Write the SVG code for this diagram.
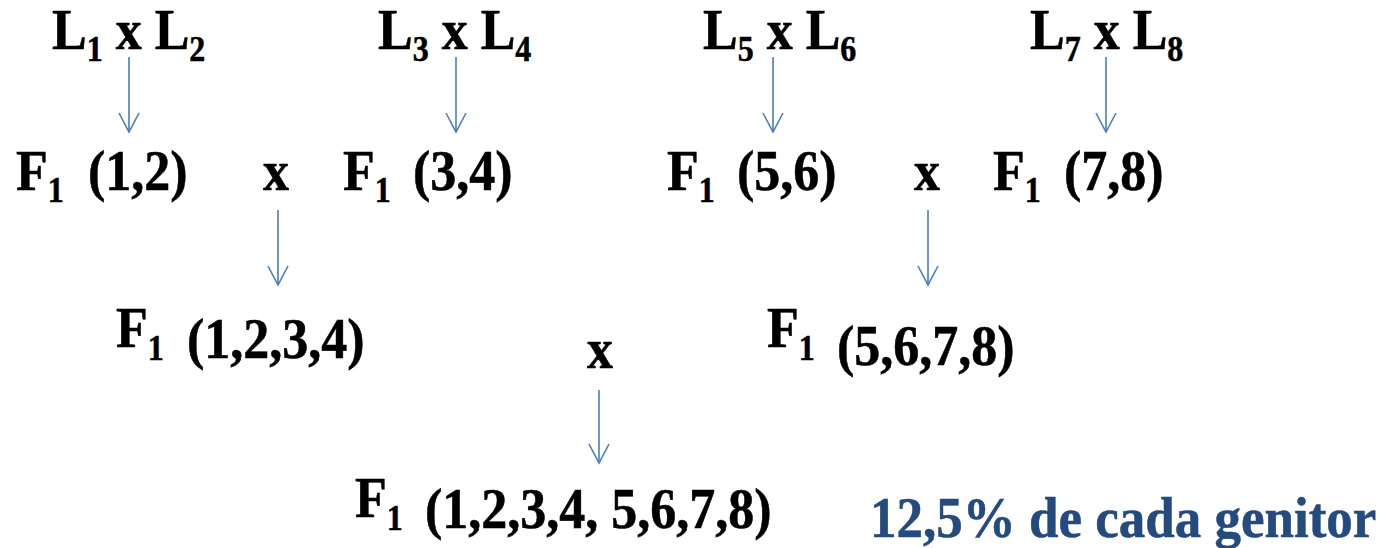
<svg xmlns="http://www.w3.org/2000/svg" width="1382" height="548" viewBox="0 0 1382 548">
<defs>
<style>
text{font-family:"Liberation Serif","Times New Roman",serif;font-weight:bold;font-size:52px;fill:#000;stroke:#000;stroke-width:0.5}
.sub{font-size:32px}
.blue{fill:#244a7e;stroke:#244a7e;font-size:53px}
.arr{stroke:#4a7ebb;stroke-width:1.6;fill:none}
</style>
<marker id="ah" viewBox="0 0 24 24" refX="21" refY="12" markerWidth="24" markerHeight="24" markerUnits="userSpaceOnUse" orient="auto">
<path d="M2 2 L21 12 L2 22" fill="none" stroke="#4a7ebb" stroke-width="1.6"/>
</marker>
</defs>
<rect width="1382" height="548" fill="#fff"/>
<g id="connectors">
<line class="arr" x1="129" y1="57" x2="129" y2="132" marker-end="url(#ah)"/>
<line class="arr" x1="456" y1="57" x2="456" y2="132" marker-end="url(#ah)"/>
<line class="arr" x1="773" y1="57" x2="773" y2="132" marker-end="url(#ah)"/>
<line class="arr" x1="1106" y1="57" x2="1106" y2="132" marker-end="url(#ah)"/>
<line class="arr" x1="278" y1="210" x2="278" y2="285" marker-end="url(#ah)"/>
<line class="arr" x1="928" y1="210" x2="928" y2="285" marker-end="url(#ah)"/>
<line class="arr" x1="599" y1="390" x2="599" y2="463" marker-end="url(#ah)"/>
</g>
<g id="cross-L1-L2"><text transform="translate(52,49) scale(1,1.09)">L<tspan class="sub" dy="11">1</tspan><tspan dy="-11"> x L</tspan><tspan class="sub" dy="11">2</tspan></text></g>
<g id="cross-L3-L4"><text transform="translate(378,49) scale(1,1.09)">L<tspan class="sub" dy="11">3</tspan><tspan dy="-11"> x L</tspan><tspan class="sub" dy="11">4</tspan></text></g>
<g id="cross-L5-L6"><text transform="translate(703,49) scale(1,1.09)">L<tspan class="sub" dy="11">5</tspan><tspan dy="-11"> x L</tspan><tspan class="sub" dy="11">6</tspan></text></g>
<g id="cross-L7-L8"><text transform="translate(1030,49) scale(1,1.09)">L<tspan class="sub" dy="11">7</tspan><tspan dy="-11"> x L</tspan><tspan class="sub" dy="11">8</tspan></text></g>
<g id="F1-12"><text transform="translate(16,190) scale(1,1.09)">F<tspan class="sub" dy="11">1</tspan></text><text transform="translate(88,190) scale(1,1.09)">(1,2)</text></g>
<g id="x-12-34"><text transform="translate(263,190) scale(1,1.09)">x</text></g>
<g id="F1-34"><text transform="translate(343,190) scale(1,1.09)">F<tspan class="sub" dy="11">1</tspan></text><text transform="translate(413,190) scale(1,1.09)">(3,4)</text></g>
<g id="F1-56"><text transform="translate(667,190) scale(1,1.09)">F<tspan class="sub" dy="11">1</tspan></text><text transform="translate(737,190) scale(1,1.09)">(5,6)</text></g>
<g id="x-56-78"><text transform="translate(914,190) scale(1,1.09)">x</text></g>
<g id="F1-78"><text transform="translate(993,190) scale(1,1.09)">F<tspan class="sub" dy="11">1</tspan></text><text transform="translate(1064,190) scale(1,1.09)">(7,8)</text></g>
<g id="F1-1234"><text transform="translate(116,347) scale(1,1.09)">F<tspan class="sub" dy="12">1</tspan></text><text transform="translate(187,358) scale(1,1.09)">(1,2,3,4)</text></g>
<g id="x-1234-5678"><text transform="translate(587,368) scale(1,1.09)">x</text></g>
<g id="F1-5678"><text transform="translate(767,347) scale(1,1.09)">F<tspan class="sub" dy="12">1</tspan></text><text transform="translate(837,365) scale(1,1.09)">(5,6,7,8)</text></g>
<g id="F1-all"><text transform="translate(355,517) scale(1,1.09)">F<tspan class="sub" dy="12">1</tspan></text><text transform="translate(425,528) scale(1,1.09)">(1,2,3,4, 5,6,7,8)</text></g>
<g id="note"><text class="blue" transform="translate(870,537) scale(1,1.06)">12,5% de cada genitor</text></g>
</svg>
